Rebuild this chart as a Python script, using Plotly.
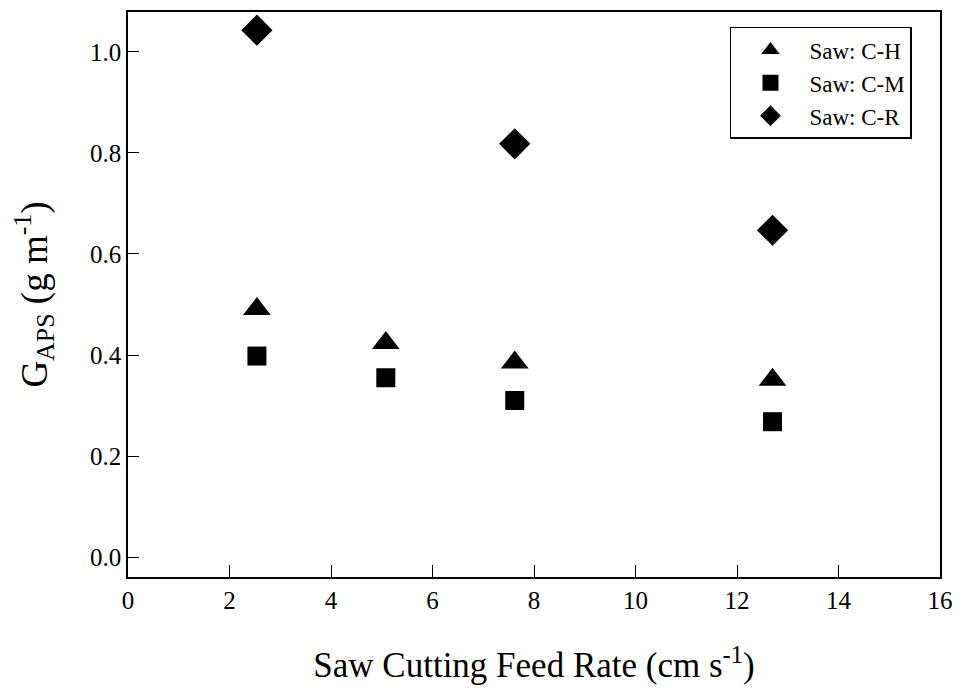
import plotly.graph_objects as go

feed_rate_h = [2.54, 5.08, 7.62, 12.7]
gaps_h = [0.491, 0.424, 0.385, 0.351]
feed_rate_m = [2.54, 5.08, 7.62, 12.7]
gaps_m = [0.398, 0.355, 0.310, 0.268]
feed_rate_r = [2.54, 7.62, 12.7]
gaps_r = [1.043, 0.818, 0.647]

names = ["Saw: C-H", "Saw: C-M", "Saw: C-R"]
x_ticks = [0, 2, 4, 6, 8, 10, 12, 14, 16]
y_ticks = [0.0, 0.2, 0.4, 0.6, 0.8, 1.0]

font = "Times New Roman, Liberation Serif, serif"
fig = go.Figure()
fig.add_trace(go.Scatter(x=feed_rate_h, y=gaps_h, mode="markers", name=names[0],
                         marker=dict(symbol="triangle-up", size=24, color="black")))
fig.add_trace(go.Scatter(x=feed_rate_m, y=gaps_m, mode="markers", name=names[1],
                         marker=dict(symbol="square", size=19, color="black")))
fig.add_trace(go.Scatter(x=feed_rate_r, y=gaps_r, mode="markers", name=names[2],
                         marker=dict(symbol="diamond", size=24, color="black")))

fig.update_layout(
    width=952, height=682,
    margin=dict(l=120, r=20, t=2, b=113),
    paper_bgcolor="white", plot_bgcolor="white",
    font=dict(family=font, color="black"),
    showlegend=True,
    legend=dict(x=0.9655, y=0.9735, xanchor="right", yanchor="top",
                bordercolor="black", borderwidth=1.5, bgcolor="white",
                font=dict(size=23, family=font), itemwidth=68,
                entrywidth=165, tracegroupgap=0),
    xaxis=dict(range=[0, 16], tickvals=x_ticks, ticks="inside", ticklen=12,
               tickwidth=1.2, tickcolor="black", showline=True, linecolor="black",
               linewidth=1.5, mirror=True, showgrid=False, zeroline=False,
               tickfont=dict(size=25, family=font),
               title=dict(text="Saw Cutting Feed Rate (cm s<sup>-1</sup>)",
                          font=dict(size=35, family=font), standoff=40)),
    yaxis=dict(range=[-0.0394, 1.079], tickvals=y_ticks, tickformat=".1f",
               ticks="inside", ticklen=11, tickwidth=1.2, tickcolor="black",
               showline=True, linecolor="black", linewidth=1.5, mirror=True,
               showgrid=False, zeroline=False,
               tickfont=dict(size=25, family=font),
               title=dict(text="G<sub>APS</sub> (g m<sup>-1</sup>)",
                          font=dict(size=37, family=font), standoff=38)),
)

fig.write_html("out.html")
